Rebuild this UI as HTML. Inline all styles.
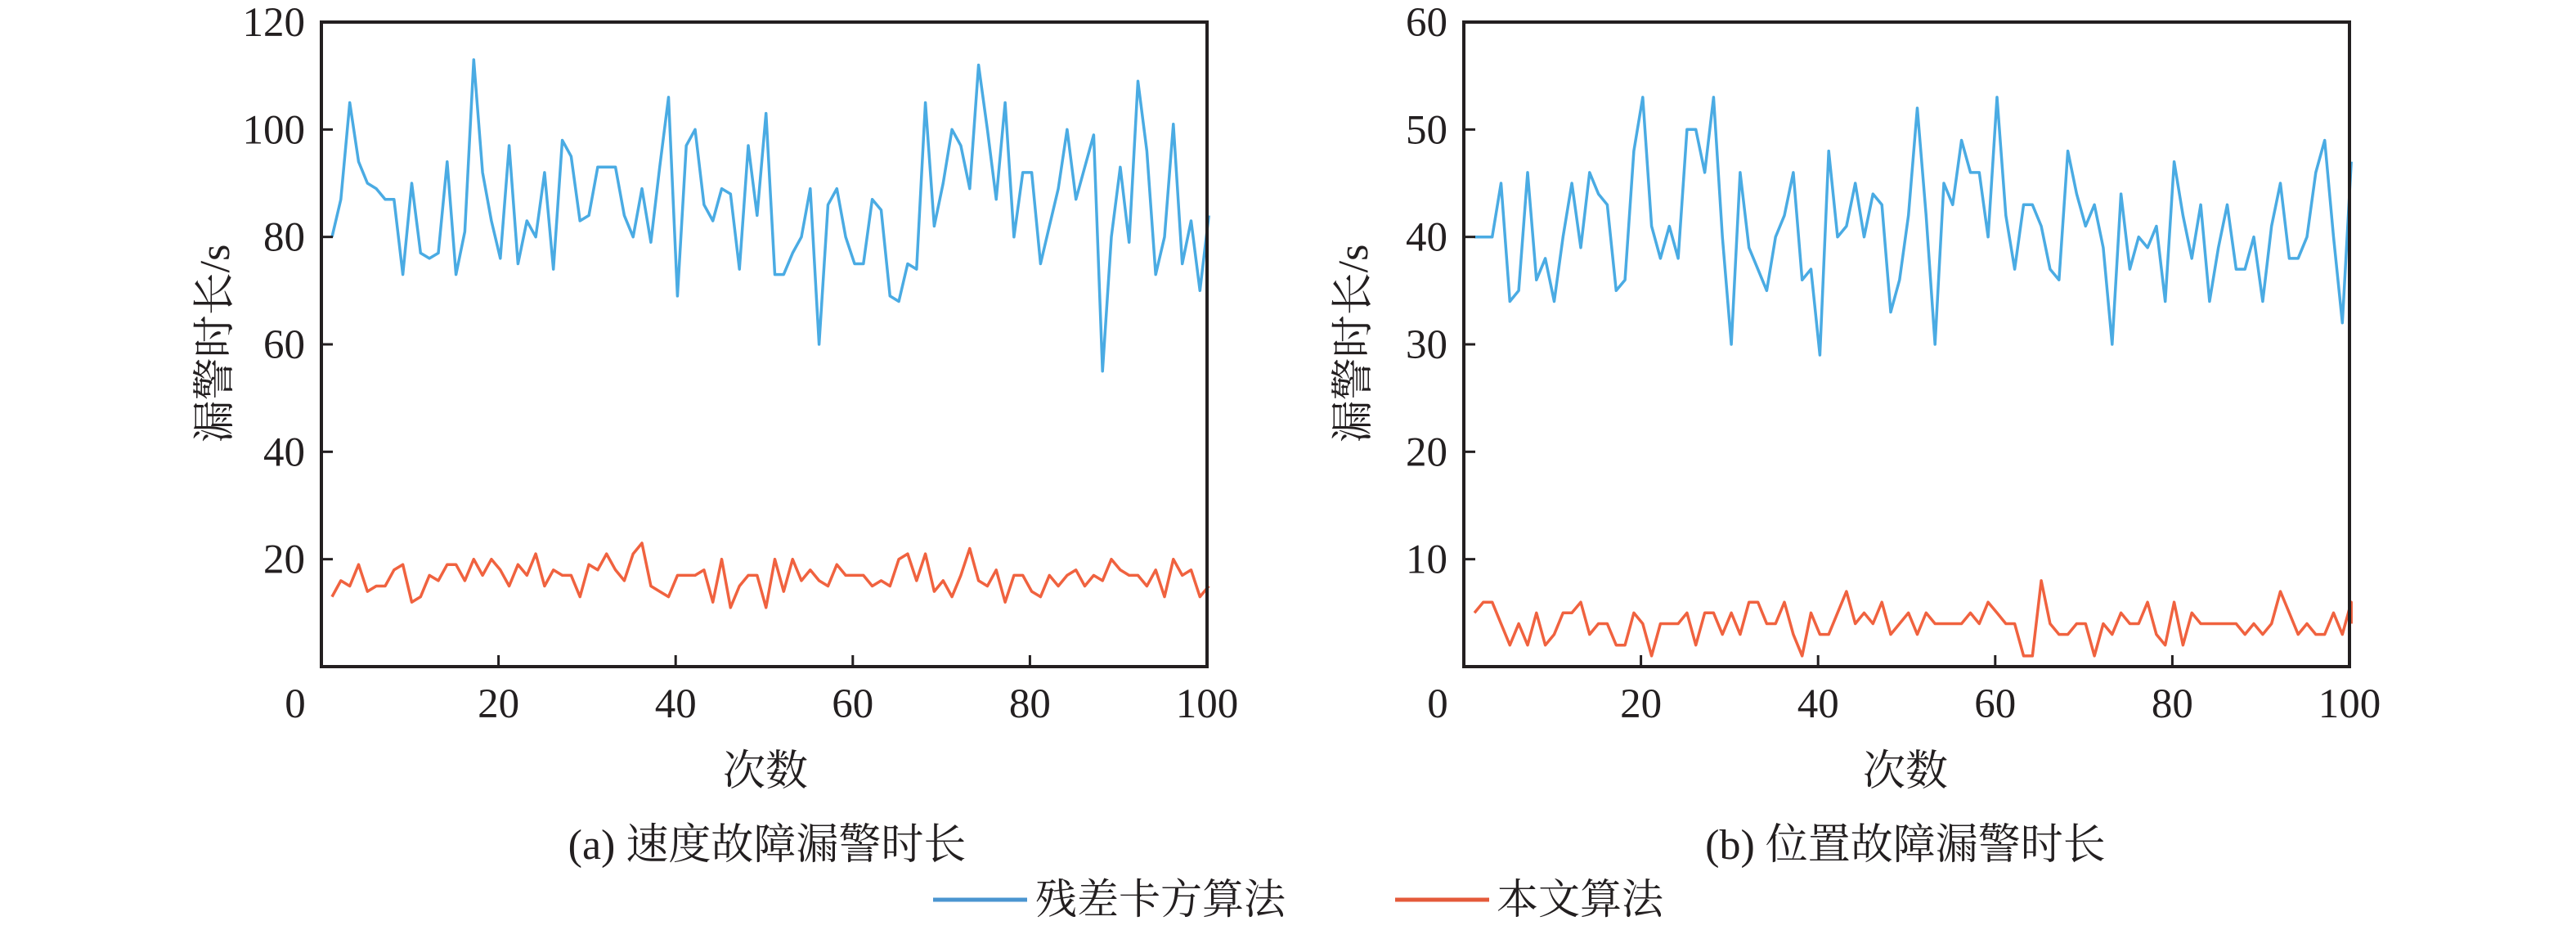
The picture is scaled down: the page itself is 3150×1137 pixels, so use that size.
<!DOCTYPE html>
<html><head><meta charset="utf-8"><style>
html,body{margin:0;padding:0;background:#fff;}
svg text{font-family:"Liberation Serif","Noto Serif CJK SC",serif;fill:#231f20;}
</style></head><body>
<svg id="s" width="3150" height="1132" xmlns="http://www.w3.org/2000/svg">
<rect width="3150" height="1132" fill="#fff"/>
<g id="A"></g><g id="B"></g>
<text x="936" y="960" font-size="52" text-anchor="middle">次数</text>
<text x="2330" y="960" font-size="52" text-anchor="middle">次数</text>
<text x="938" y="1050" font-size="52" text-anchor="middle">(a) 速度故障漏警时长</text>
<text x="2330" y="1050" font-size="52" text-anchor="middle">(b) 位置故障漏警时长</text>
<text transform="translate(280,420) rotate(-90)" font-size="52" text-anchor="middle">漏警时长/s</text>
<text transform="translate(1672,420) rotate(-90)" font-size="52" text-anchor="middle">漏警时长/s</text>
<line x1="1141" y1="1100" x2="1256" y2="1100" stroke="#4a95d0" stroke-width="5"/>
<text x="1266" y="1117" font-size="51">残差卡方算法</text>
<line x1="1706" y1="1100" x2="1821" y2="1100" stroke="#e45a3a" stroke-width="5"/>
<text x="1830" y="1117" font-size="51">本文算法</text>
</svg>
<script>
function draw(id,L,R,T,Bt,ymax,ystep,blue,red,bx0,rx0){
 var g=document.getElementById(id),h="";
 var sx=function(v){return L+(R-L)*v/100;}, sy=function(v){return Bt-(Bt-T)*v/ymax;};
 function pl(arr,x0,c){var p=[];for(var i=0;i<arr.length;i++){var x=x0+i;p.push(sx(Math.min(x,100.2)).toFixed(1)+","+sy(arr[i]).toFixed(1));}
  return '<polyline points="'+p.join(" ")+'" fill="none" stroke="'+c+'" stroke-width="3.5" stroke-linejoin="round"/>';}
 h+=pl(blue,bx0,"#4aabe3");h+=pl(red,rx0,"#f0623f");
 h+='<rect x="'+L+'" y="'+T+'" width="'+(R-L)+'" height="'+(Bt-T)+'" fill="none" stroke="#231f20" stroke-width="4"/>';
 for(var v=20;v<=80;v+=20){h+='<line x1="'+sx(v)+'" y1="'+Bt+'" x2="'+sx(v)+'" y2="'+(Bt-14)+'" stroke="#231f20" stroke-width="3"/>';}
 for(var v=0;v<=100;v+=20){var xx=v==0?L-32:sx(v);h+='<text x="'+xx+'" y="'+(Bt+62)+'" font-size="51" text-anchor="middle">'+v+'</text>';}
 for(var v=ystep;v<=ymax;v+=ystep){var y=sy(v);if(v<ymax)h+='<line x1="'+L+'" y1="'+y+'" x2="'+(L+14)+'" y2="'+y+'" stroke="#231f20" stroke-width="3"/>';
  h+='<text x="'+(L-20)+'" y="'+(y+17)+'" font-size="51" text-anchor="end">'+v+'</text>';}
 g.innerHTML=h;
}
var Ab=[80,87,105,94,90,89,87,87,73,90,77,76,77,94,73,81,113,92,83,76,97,75,83,80,92,74,98,95,83,84,93,93,93,84,80,89,79,93,106,69,97,100,86,83,89,88,74,97,84,103,73,73,77,80,89,60,86,89,80,75,75,87,85,69,68,75,74,105,82,90,100,97,89,112,100,87,105,80,92,92,75,82,89,100,87,93,99,55,80,93,79,109,96,73,80,101,75,83,70,84];
var Ar=[13,16,15,19,14,15,15,18,19,12,13,17,16,19,19,16,20,17,20,18,15,19,17,21,15,18,17,17,13,19,18,21,18,16,21,23,15,14,13,17,17,17,18,12,20,11,15,17,17,11,20,14,20,16,18,16,15,19,17,17,17,15,16,15,20,21,16,21,14,16,13,17,22,16,15,18,12,17,17,14,13,17,15,17,18,15,17,16,20,18,17,17,15,18,13,20,17,18,13,15];
var Bb=[40,40,40,45,34,35,46,36,38,34,40,45,39,46,44,43,35,36,48,53,41,38,41,38,50,50,46,53,40,30,46,39,37,35,40,42,46,36,37,29,48,40,41,45,40,44,43,33,36,42,52,42,30,45,43,49,46,46,40,53,42,37,43,43,41,37,36,48,44,41,43,39,30,44,37,40,39,41,34,47,42,38,43,34,39,43,37,37,40,34,41,45,38,38,40,46,49,40,32,47];
var Br=[5,6,6,4,2,4,2,5,2,3,5,5,6,3,4,4,2,2,5,4,1,4,4,4,5,2,5,5,3,5,3,6,6,4,4,6,3,1,5,3,3,5,7,4,5,4,6,3,4,5,3,5,4,4,4,4,5,4,6,5,4,4,1,1,8,4,3,3,4,4,1,4,3,5,4,4,6,3,2,6,2,5,4,4,4,4,4,3,4,3,4,7,5,3,4,3,3,5,3,6,4];
draw("A",393,1476,27,815,120,20,Ab,Ar,1.2,1.2);
draw("B",1790,2873,27,815,60,10,Bb,Br,1.2,1.2);
</script>
</body></html>
